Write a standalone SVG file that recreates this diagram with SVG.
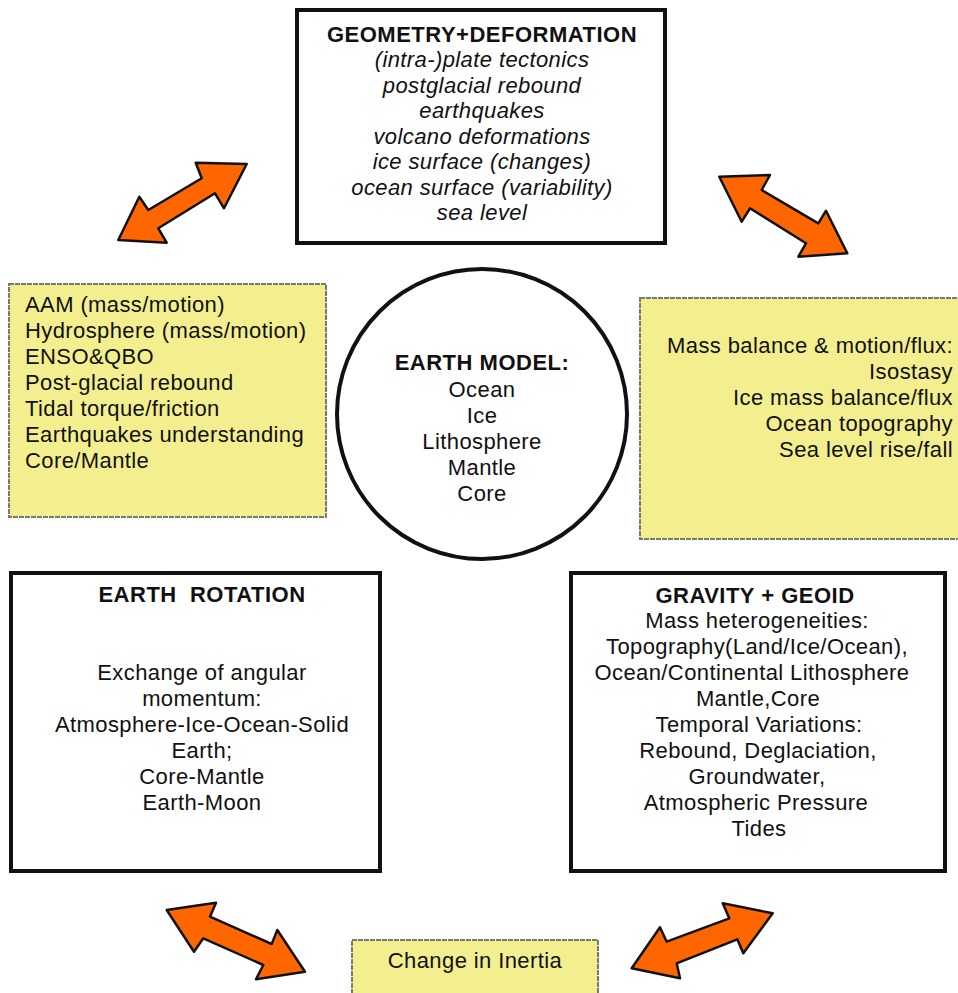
<svg xmlns="http://www.w3.org/2000/svg" width="958" height="993" viewBox="0 0 958 993">
<style>
text{font-family:"Liberation Sans",Arial,sans-serif;font-size:22px;letter-spacing:0.4px;fill:#111}
.b{font-weight:bold;letter-spacing:0.5px}
.i{font-style:italic}
.m{text-anchor:middle}
.e{text-anchor:end}
.box{fill:#fff;stroke:#111;stroke-width:4}
.note{fill:#F4EF8E;stroke:#7a7a6a;stroke-width:2;stroke-dasharray:5 1}
.arr{fill:#FF6600;stroke:#111;stroke-width:2.5;stroke-linejoin:round}
</style>
<rect width="958" height="993" fill="#fff"/>
<g id="geometry">
<rect class="box" x="297" y="10" width="368" height="233"/>
<text class="b m" x="482" y="42">GEOMETRY+DEFORMATION</text>
<text class="i m" x="482" y="67">(intra-)plate tectonics</text>
<text class="i m" x="482" y="93">postglacial rebound</text>
<text class="i m" x="482" y="118">earthquakes</text>
<text class="i m" x="482" y="144">volcano deformations</text>
<text class="i m" x="482" y="169">ice surface (changes)</text>
<text class="i m" x="482" y="195">ocean surface (variability)</text>
<text class="i m" x="482" y="220">sea level</text>
</g>
<g id="left-note">
<rect class="note" x="9" y="284" width="317" height="233"/>
<text x="25" y="312">AAM (mass/motion)</text>
<text x="25" y="338">Hydrosphere (mass/motion)</text>
<text x="25" y="364">ENSO&amp;QBO</text>
<text x="25" y="390">Post-glacial rebound</text>
<text x="25" y="416">Tidal torque/friction</text>
<text x="25" y="442">Earthquakes understanding</text>
<text x="25" y="468">Core/Mantle</text>
</g>
<g id="right-note">
<rect class="note" x="640" y="298" width="322" height="241"/>
<text class="e" x="953" y="353">Mass balance &amp; motion/flux:</text>
<text class="e" x="953" y="379">Isostasy</text>
<text class="e" x="953" y="405">Ice mass balance/flux</text>
<text class="e" x="953" y="431">Ocean topography</text>
<text class="e" x="953" y="457">Sea level rise/fall</text>
</g>
<g id="earth-model">
<circle class="box" cx="482" cy="414" r="145"/>
<text class="b m" x="482" y="370">EARTH MODEL:</text>
<text class="m" x="482" y="397">Ocean</text>
<text class="m" x="482" y="423">Ice</text>
<text class="m" x="482" y="449">Lithosphere</text>
<text class="m" x="482" y="475">Mantle</text>
<text class="m" x="482" y="501">Core</text>
</g>
<g id="earth-rotation">
<rect class="box" x="11" y="573" width="369" height="298"/>
<text class="b m" x="202" y="602" xml:space="preserve">EARTH  ROTATION</text>
<text class="m" x="202" y="680">Exchange of angular</text>
<text class="m" x="202" y="706">momentum:</text>
<text class="m" x="202" y="732">Atmosphere-Ice-Ocean-Solid</text>
<text class="m" x="202" y="758">Earth;</text>
<text class="m" x="202" y="784">Core-Mantle</text>
<text class="m" x="202" y="810">Earth-Moon</text>
</g>
<g id="gravity-geoid">
<rect class="box" x="571" y="573" width="374" height="298"/>
<text class="b m" x="755" y="603">GRAVITY + GEOID</text>
<text class="m" x="757" y="628">Mass heterogeneities:</text>
<text class="m" x="757" y="654">Topography(Land/Ice/Ocean),</text>
<text class="m" x="752" y="680">Ocean/Continental Lithosphere</text>
<text class="m" x="758" y="706">Mantle,Core</text>
<text class="m" x="759" y="732">Temporal Variations:</text>
<text class="m" x="758" y="758">Rebound, Deglaciation,</text>
<text class="m" x="757" y="784">Groundwater,</text>
<text class="m" x="756" y="810">Atmospheric Pressure</text>
<text class="m" x="759" y="836">Tides</text>
</g>
<g id="change-inertia">
<rect class="note" x="352" y="940" width="246" height="60"/>
<text class="m" x="475" y="968">Change in Inertia</text>
</g>
<g id="connectors">
<polygon class="arr" points="118.3,240 139.3,196.7 148.3,210 201.7,178.3 195.7,162.7 246.7,164 224,208.3 215,193.3 158.3,228.3 166.7,242.7"/>
<polygon class="arr" points="719.3,176.7 770,175 761.7,190 818.3,223.3 826,210.7 847.3,253.3 798.3,256.7 806,243.3 750,208.3 741.7,221.7"/>
<polygon class="arr" points="166.7,910 216,902.7 210,916.7 271.7,944 277.3,930 305,971.7 256,979.3 263.3,965 203.3,938.3 194,951.7"/>
<polygon class="arr" points="631.7,968.3 660,927.3 666.7,941.7 729.3,918.3 722.7,903.3 772.7,913.3 743.3,953.3 737.3,939.3 676.7,963.3 680,978.3"/>
</g>
</svg>
